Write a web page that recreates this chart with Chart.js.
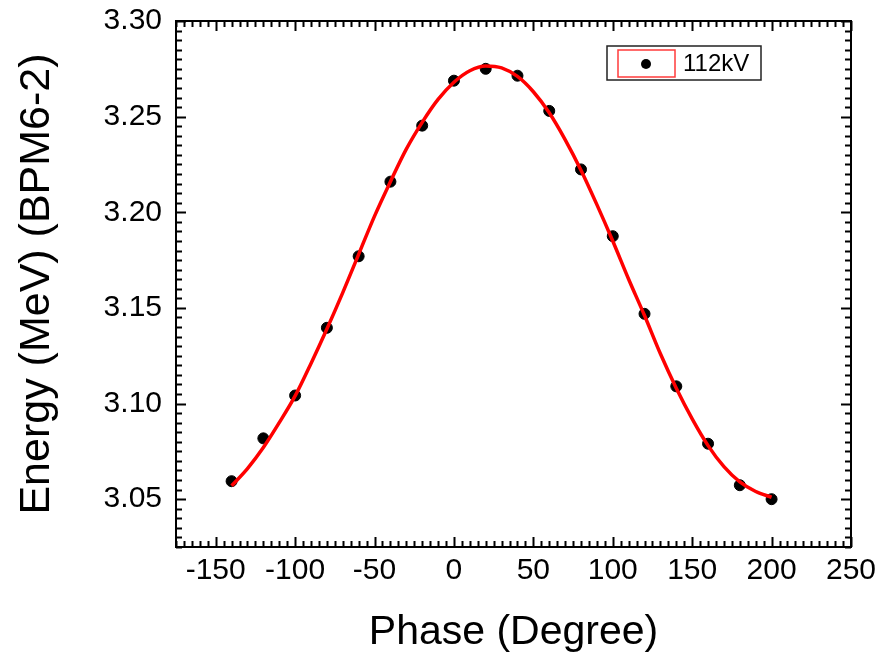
<!DOCTYPE html>
<html lang="en">
<head>
    <meta charset="UTF-8">
    <title>Energy vs Phase (BPM6-2)</title>
    <script src="https://cdn.jsdelivr.net/npm/chart.js"></script>
    <style>
        * { margin: 0; padding: 0; box-sizing: border-box; }
        body { background: #fff; }
        .wrap { width: 889px; height: 653px; position: relative; }
    </style>
</head>
<body>
    <div class="wrap">
        <canvas id="energyChart"></canvas>
    </div>

    <script>
        // measured points (112kV)
        const phase = [-140, -120, -100, -80, -60, -40, -20, 0, 20, 40, 60, 80, 100, 120, 140, 160, 180, 200];
        const energy = [3.0594, 3.0818, 3.1042, 3.1396, 3.1770, 3.2160, 3.2453, 3.2688, 3.2750, 3.2714,
                        3.2530, 3.2224, 3.1875, 3.1469, 3.1090, 3.0790, 3.0573, 3.0500];

        // fitted curve
        const fitPhase = [-140, -130, -120, -110, -100, -90, -80, -70, -60, -50, -40, -30, -20, -10, 0, 10, 20, 30,
                          40, 50, 60, 70, 80, 90, 100, 110, 120, 130, 140, 150, 160, 170, 180, 190, 200];
        const fitEnergy = [3.057, 3.066, 3.077, 3.090, 3.104, 3.121, 3.139, 3.158, 3.178, 3.198, 3.216, 3.233,
                           3.247, 3.259, 3.268, 3.274, 3.2765, 3.2755, 3.271, 3.263, 3.252, 3.238, 3.222, 3.204,
                           3.185, 3.165, 3.146, 3.126, 3.108, 3.092, 3.078, 3.067, 3.059, 3.054, 3.051];

        const xTicks = [-150, -100, -50, 0, 50, 100, 150, 200, 250];
        const yTicks = [3.05, 3.10, 3.15, 3.20, 3.25, 3.30];
        const seriesName = '112kV';

        // box frame + inward ticks on all four sides, Origin style
        const framePlugin = {
            id: 'frame',
            afterDraw(chart) {
                const { ctx, chartArea: a, scales: { x, y } } = chart;
                ctx.save();
                ctx.strokeStyle = '#000';
                ctx.lineWidth = 2;
                ctx.strokeRect(a.left, a.top, a.right - a.left, a.bottom - a.top);

                ctx.beginPath();
                // x ticks: minor every 5
                for (let v = x.min; v <= x.max + 0.001; v += 5) {
                    const px = Math.round(x.getPixelForValue(v)) + 0.5;
                    const len = (Math.abs(v % 50) < 0.001) ? 10 : 6;
                    ctx.moveTo(px, a.bottom); ctx.lineTo(px, a.bottom - len);
                    ctx.moveTo(px, a.top); ctx.lineTo(px, a.top + len);
                }
                // y ticks: minor every 0.005
                for (let i = 0; ; i++) {
                    const v = y.min + i * 0.005;
                    if (v > y.max + 1e-6) break;
                    const py = Math.round(y.getPixelForValue(v)) + 0.5;
                    const major = Math.abs(Math.round(v * 20) - v * 20) < 1e-4;
                    const len = major ? 10 : 6;
                    ctx.moveTo(a.left, py); ctx.lineTo(a.left + len, py);
                    ctx.moveTo(a.right, py); ctx.lineTo(a.right - len, py);
                }
                ctx.stroke();

                // legend box
                const lx = 607, ly = 46, lw = 154, lh = 34;
                ctx.lineWidth = 1.5;
                ctx.strokeStyle = '#222';
                ctx.fillStyle = '#fff';
                ctx.fillRect(lx, ly, lw, lh);
                ctx.strokeRect(lx, ly, lw, lh);
                ctx.strokeStyle = '#ff3b3b';
                ctx.lineWidth = 1.5;
                ctx.strokeRect(lx + 11, ly + 4, 57, 27);
                ctx.fillStyle = '#000';
                ctx.beginPath();
                ctx.arc(lx + 39, ly + 18, 5, 0, Math.PI * 2);
                ctx.fill();
                ctx.font = '24px "Liberation Sans", Arial, sans-serif';
                ctx.textBaseline = 'middle';
                ctx.textAlign = 'left';
                ctx.fillText(seriesName, lx + 76, ly + 18);
                ctx.restore();
            }
        };

        const tickFont = { family: '"Liberation Sans", Arial, sans-serif', size: 30 };
        const titleFont = { family: '"Liberation Sans", Arial, sans-serif', size: 41, lineHeight: 1 };
        const yTitleFont = { family: '"Liberation Sans", Arial, sans-serif', size: 43, lineHeight: 1 };

        new Chart(document.getElementById('energyChart'), {
            type: 'scatter',
            data: {
                datasets: [
                    {
                        type: 'line',
                        label: 'fit',
                        data: fitPhase.map((p, i) => ({ x: p, y: fitEnergy[i] })),
                        borderColor: '#ff0000',
                        borderWidth: 3.5,
                        pointRadius: 0,
                        fill: false,
                        tension: 0.4,
                        cubicInterpolationMode: 'monotone'
                    },
                    {
                        label: seriesName,
                        data: phase.map((p, i) => ({ x: p, y: energy[i] })),
                        backgroundColor: '#000',
                        borderColor: '#000',
                        pointRadius: 5.5,
                        pointHoverRadius: 5.5
                    }
                ]
            },
            options: {
                responsive: true,
                maintainAspectRatio: false,
                animation: false,
                layout: { padding: { top: 21, right: 38, left: 0, bottom: 0 } },
                plugins: {
                    legend: { display: false },
                    tooltip: { enabled: false }
                },
                scales: {
                    x: {
                        type: 'linear',
                        min: -175,
                        max: 250,
                        afterBuildTicks: s => { s.ticks = xTicks.map(v => ({ value: v })); },
                        afterFit: s => { s.height = 106; s.paddingLeft = 0; s.paddingRight = 0; },
                        grid: { display: false, drawTicks: false },
                        border: { display: false },
                        ticks: { color: '#000', font: tickFont, padding: 6, maxRotation: 0 },
                        title: { display: true, text: 'Phase (Degree)', color: '#000', font: titleFont, padding: { top: 0, bottom: 0 } }
                    },
                    y: {
                        type: 'linear',
                        min: 3.025,
                        max: 3.30,
                        afterBuildTicks: s => { s.ticks = yTicks.map(v => ({ value: v })); },
                        afterFit: s => { s.width = 176; s.paddingTop = 0; s.paddingBottom = 0; },
                        grid: { display: false, drawTicks: false },
                        border: { display: false },
                        ticks: { color: '#000', font: tickFont, padding: 14, callback: v => v.toFixed(2) },
                        title: { display: true, text: 'Energy (MeV) (BPM6-2)', color: '#000', font: yTitleFont, padding: { top: 16, bottom: 0 } }
                    }
                }
            },
            plugins: [framePlugin]
        });
    </script>
</body>
</html>
